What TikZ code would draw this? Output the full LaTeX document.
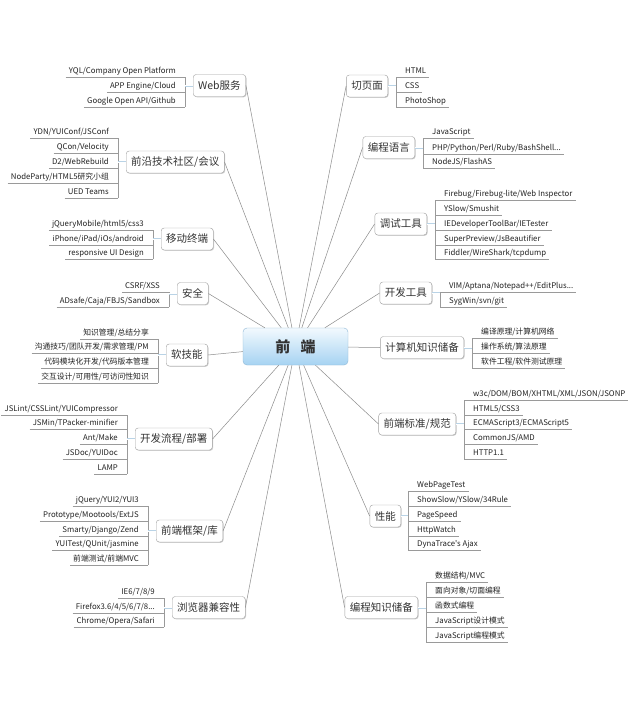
\documentclass[tikz,border=0pt]{standalone}
\usepackage{fontspec}
\setmainfont{Noto Sans CJK SC}[Ligatures=TeXOff]
\usetikzlibrary{shadows}
\definecolor{linegray}{HTML}{8C8C8C}
\definecolor{boxborder}{HTML}{A0A0A0}
\definecolor{ulgray}{HTML}{9A9A9A}
\definecolor{txt}{HTML}{333333}
\definecolor{leaftxt}{HTML}{222222}
\definecolor{ctop}{HTML}{F2F9FE}
\definecolor{cbot}{HTML}{A6D3F2}
\definecolor{cborder}{HTML}{8FB8D6}
\definecolor{stubblue}{HTML}{B9D3E6}
\tikzset{
  hub/.style={draw=cborder, top color=ctop, bottom color=cbot, rounded corners=4pt,
    minimum width=105pt, minimum height=37pt, font=\fontsize{15}{17}\selectfont\bfseries, text=txt},
  branch/.style={draw=boxborder, fill=white, rounded corners=3pt, minimum height=22pt,
    inner xsep=5pt, font=\fontsize{10.5}{12}\selectfont, text=txt,
    drop shadow={shadow xshift=0.8pt, shadow yshift=-0.8pt, opacity=0.2, fill=black}},
  leaf/.style={inner xsep=3pt, inner ysep=1.5pt, text height=6pt, text depth=1.5pt,
    font=\fontsize{7.8}{9}\selectfont, text=leaftxt},
  uline/.style={draw=ulgray, line width=0.6pt},
  conn/.style={draw=linegray, line width=0.5pt},
  stub/.style={draw=stubblue, double=white, double distance=0.8pt, line width=0.6pt}
}
\newcommand\lfL[4]{%
  \node[leaf, anchor=south east] (#1) at (#2-6,#3) {#4};
  \draw[uline] (#1.south west) -- (#2,#3);}
\newcommand\lfR[4]{%
  \node[leaf, anchor=south west] (#1) at (#2+6,#3) {#4};
  \draw[uline] (#2,#3) -- (#1.south east);}
\begin{document}
\begin{tikzpicture}[x=1pt, y=-1pt]
\fill[white] (0,0) rectangle (628,709);
\useasboundingbox (0,0) rectangle (628,709);

% hub
\node[hub] (fe) at (295.5,346.5) {前\hspace{0.7em}端};

% left branches
\node[branch, anchor=west] (web) at (193,85.5) {Web服务};
\node[branch, anchor=west] (qy)  at (126,162) {前沿技术社区/会议};
\node[branch, anchor=west] (yd)  at (161,239) {移动终端};
\node[branch, anchor=west] (aq)  at (177,293.5) {安全};
\node[branch, anchor=west] (rj)  at (166,355) {软技能};
\node[branch, anchor=west] (lc)  at (135,439) {开发流程/部署};
\node[branch, anchor=west] (kj)  at (156,531) {前端框架/库};
\node[branch, anchor=west] (ll)  at (172,607.5) {浏览器兼容性};

% right branches
\node[branch, anchor=east] (qym) at (388,86) {切页面};
\node[branch, anchor=east] (bc)  at (415,147.5) {编程语言};
\node[branch, anchor=east] (ts)  at (427,224) {调试工具};
\node[branch, anchor=east] (kf)  at (432,293) {开发工具};
\node[branch, anchor=east] (jsj) at (464,347.5) {计算机知识储备};
\node[branch, anchor=east] (bz)  at (456,424) {前端标准/规范};
\node[branch, anchor=east] (xn)  at (401,516) {性能};
\node[branch, anchor=east] (zs)  at (418,607.5) {编程知识储备};

% connectors to hub
\foreach \b in {web,qy,yd,aq,rj,lc,kj,ll}{\draw[conn] (\b.east) -- (fe);}
\foreach \b in {qym,bc,ts,kf,jsj,bz,xn,zs}{\draw[conn] (\b.west) -- (fe);}

% ---- leaves, left ----
\lfL{w1}{185}{77}{YQL/Company Open Platform}
\lfL{w2}{185}{92}{APP Engine/Cloud}
\lfL{w3}{185}{107}{Google Open API/Github}
\draw[uline] (185,77) -- (185,107);
\draw[stub] (185,85.5) -- (web.west);

\lfL{q1}{118}{138}{YDN/YUIConf/JSConf}
\lfL{q2}{118}{153}{QCon/Velocity}
\lfL{q3}{118}{168}{D2/WebRebuild}
\lfL{q4}{118}{183}{NodeParty/HTML5研究小组}
\lfL{q5}{118}{198}{UED Teams}
\draw[uline] (118,138) -- (118,198);
\draw[stub] (118,162) -- (qy.west);

\lfL{y1}{153}{230}{jQueryMobile/html5/css3}
\lfL{y2}{153}{245}{iPhone/iPad/iOs/android}
\lfL{y3}{153}{259}{responsive UI Design}
\draw[uline] (153,230) -- (153,259);
\draw[stub] (153,239) -- (yd.west);

\lfL{a1}{169}{292}{CSRF/XSS}
\lfL{a2}{169}{307}{ADsafe/Caja/FBJS/Sandbox}
\draw[uline] (169,292) -- (169,307);
\draw[stub] (169,293.5) -- (aq.west);

\lfL{r1}{158}{339}{知识管理/总结分享}
\lfL{r2}{158}{353}{沟通技巧/团队开发/需求管理/PM}
\lfL{r3}{158}{368}{代码模块化开发/代码版本管理}
\lfL{r4}{158}{383}{交互设计/可用性/可访问性知识}
\draw[uline] (158,339) -- (158,383);
\draw[stub] (158,355) -- (rj.west);

\lfL{l1}{127}{415}{JSLint/CSSLint/YUICompressor}
\lfL{l2}{127}{429}{JSMin/TPacker-minifier}
\lfL{l3}{127}{444}{Ant/Make}
\lfL{l4}{127}{459}{JSDoc/YUIDoc}
\lfL{l5}{127}{474}{LAMP}
\draw[uline] (127,415) -- (127,474);
\draw[stub] (127,439) -- (lc.west);

\lfL{k1}{148}{506}{jQuery/YUI2/YUI3}
\lfL{k2}{148}{521}{Prototype/Mootools/ExtJS}
\lfL{k3}{148}{536}{Smarty/Django/Zend}
\lfL{k4}{148}{550}{YUITest/QUnit/jasmine}
\lfL{k5}{148}{565}{前端测试/前端MVC}
\draw[uline] (148,506) -- (148,565);
\draw[stub] (148,531) -- (kj.west);

\lfL{b1}{164}{598}{IE6/7/8/9}
\lfL{b2}{164}{613}{Firefox3.6/4/5/6/7/8...}
\lfL{b3}{164}{627}{Chrome/Opera/Safari}
\draw[uline] (164,598) -- (164,627);
\draw[stub] (164,607.5) -- (ll.west);

% ---- leaves, right ----
\lfR{c1}{396}{77}{HTML}
\lfR{c2}{396}{92}{CSS}
\lfR{c3}{396}{107}{PhotoShop}
\draw[uline] (396,77) -- (396,107);
\draw[stub] (396,86) -- (qym.east);

\lfR{p1}{423}{138}{JavaScript}
\lfR{p2}{423}{154}{PHP/Python/Perl/Ruby/BashShell...}
\lfR{p3}{423}{168}{NodeJS/FlashAS}
\draw[uline] (423,138) -- (423,168);
\draw[stub] (423,147.5) -- (bc.east);

\lfR{t1}{435}{200}{Firebug/Firebug-lite/Web Inspector}
\lfR{t2}{435}{215}{YSlow/Smushit}
\lfR{t3}{435}{230}{IEDeveloperToolBar/IETester}
\lfR{t4}{435}{245}{SuperPreview/JsBeautifier}
\lfR{t5}{435}{259}{Fiddler/WireShark/tcpdump}
\draw[uline] (435,200) -- (435,259);
\draw[stub] (435,224) -- (ts.east);

\lfR{d1}{440}{292}{VIM/Aptana/Notepad++/EditPlus...}
\lfR{d2}{440}{307}{SygWin/svn/git}
\draw[uline] (440,292) -- (440,307);
\draw[stub] (440,293) -- (kf.east);

\lfR{j1}{472}{338}{编译原理/计算机网络}
\lfR{j2}{472}{353}{操作系统/算法原理}
\lfR{j3}{472}{368}{软件工程/软件测试原理}
\draw[uline] (472,338) -- (472,368);
\draw[stub] (472,347.5) -- (jsj.east);

\lfR{s1}{464}{400}{w3c/DOM/BOM/XHTML/XML/JSON/JSONP}
\lfR{s2}{464}{415}{HTML5/CSS3}
\lfR{s3}{464}{429}{ECMAScript3/ECMAScript5}
\lfR{s4}{464}{444}{CommonJS/AMD}
\lfR{s5}{464}{459}{HTTP1.1}
\draw[uline] (464,400) -- (464,459);
\draw[stub] (464,424) -- (bz.east);

\lfR{n1}{408}{491}{WebPageTest}
\lfR{n2}{408}{506}{ShowSlow/YSlow/34Rule}
\lfR{n3}{408}{521}{PageSpeed}
\lfR{n4}{408}{536}{HttpWatch}
\lfR{n5}{408}{550}{DynaTrace's Ajax}
\draw[uline] (408,491) -- (408,550);
\draw[stub] (408,516) -- (xn.east);

\lfR{z1}{426}{582}{数据结构/MVC}
\lfR{z2}{426}{597}{面向对象/切面编程}
\lfR{z3}{426}{612}{函数式编程}
\lfR{z4}{426}{627}{JavaScript设计模式}
\lfR{z5}{426}{642}{JavaScript编程模式}
\draw[uline] (426,582) -- (426,642);
\draw[stub] (426,607.5) -- (zs.east);
\end{tikzpicture}
\end{document}
